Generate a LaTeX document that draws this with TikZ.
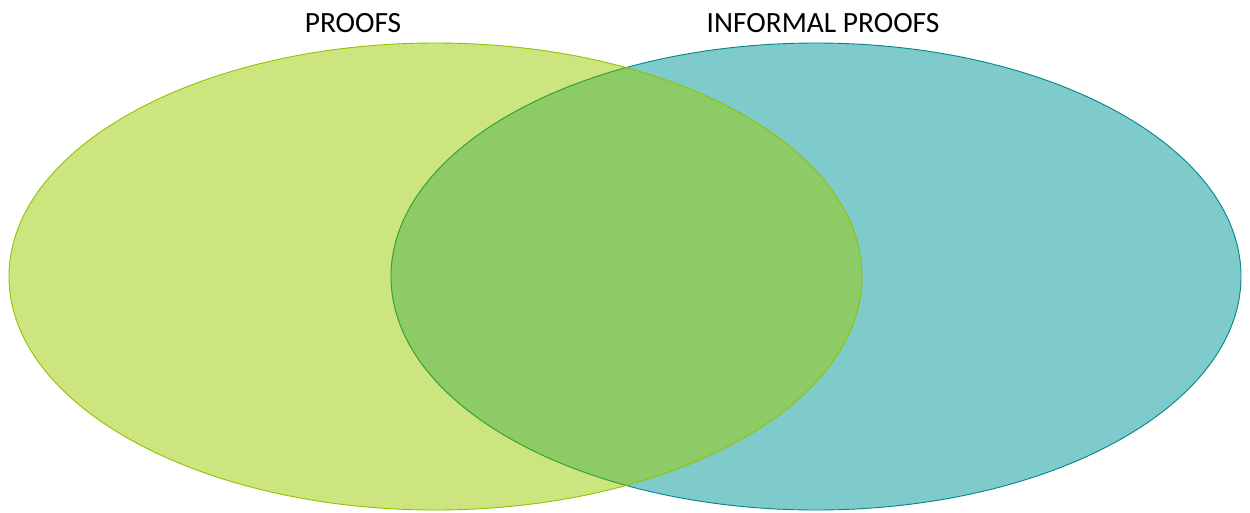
\documentclass[tikz,border=0pt]{standalone}
\usepackage{fontspec}
\setmainfont{Carlito}
\definecolor{limefill}{RGB}{153,204,0}
\definecolor{tealfill}{RGB}{0,150,150}
\begin{document}
\begin{tikzpicture}[x=1pt,y=-1pt,
  settitle/.style={font=\fontsize{29.4}{34}\selectfont, text=black, inner sep=0pt, anchor=base}]
\useasboundingbox (0,0) rectangle (1250,512);
% right set (drawn first, the left one overlaps it)
\fill[tealfill, fill opacity=0.5] (816,276.5) ellipse [x radius=425, y radius=233.5];
\draw[tealfill!90!black, line width=0.9pt] (816,276.5) ellipse [x radius=425, y radius=233.5];
% left set
\fill[limefill, fill opacity=0.5] (435.5,276.5) ellipse [x radius=426.5, y radius=233.5];
\draw[limefill!95!black, line width=0.9pt] (435.5,276.5) ellipse [x radius=426.5, y radius=233.5];
% inner arc of the right set shows through the overlap
\begin{scope}
\clip (435.5,276.5) ellipse [x radius=426.5, y radius=233.5];
\draw[green!55!black, draw opacity=0.3, line width=0.9pt] (816,276.5) ellipse [x radius=425, y radius=233.5];
\end{scope}
\node[settitle] (proofs) at (353,32) {PROOFS};
\node[settitle] (informal) at (823,32) {INFORMAL PROOFS};
\end{tikzpicture}
\end{document}
